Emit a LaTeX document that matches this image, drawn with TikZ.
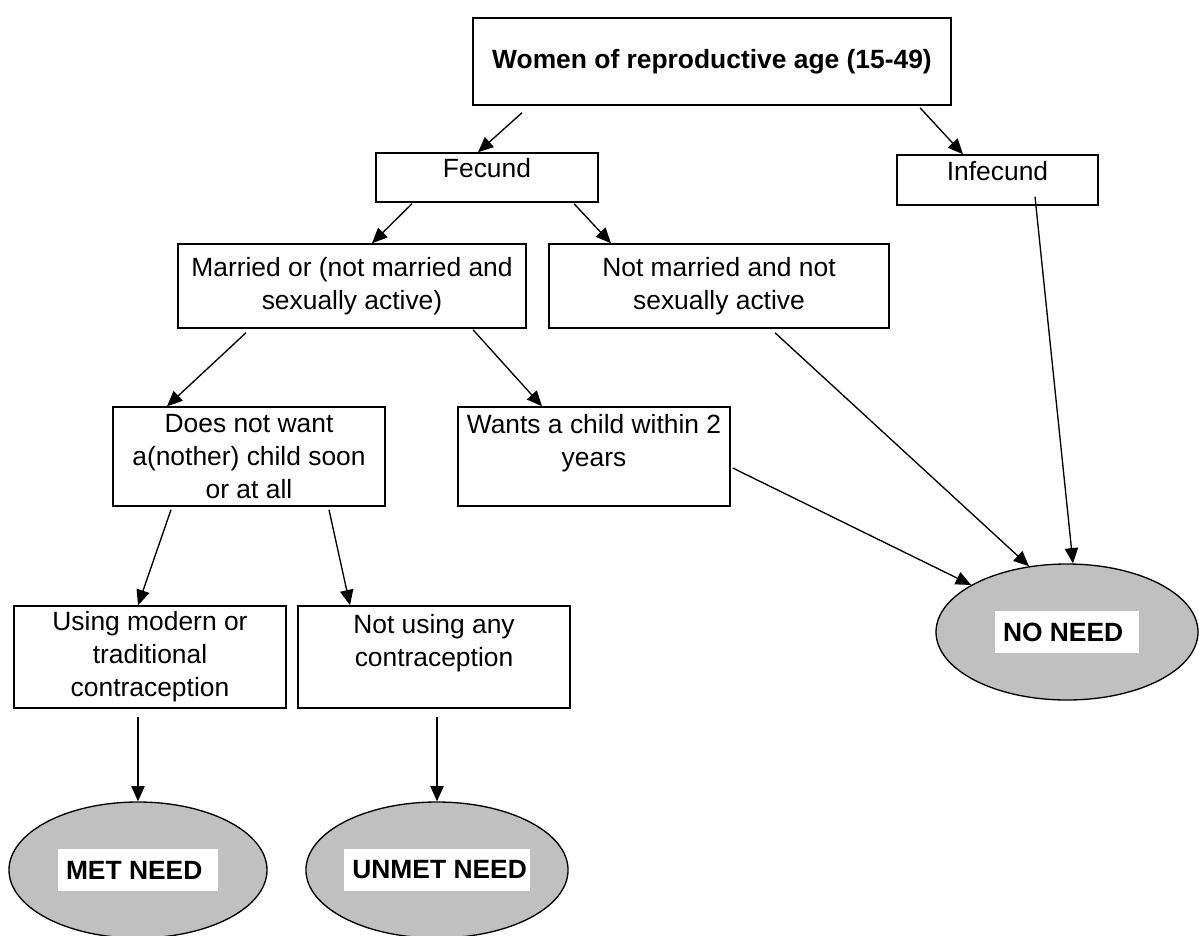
\documentclass[tikz,border=0pt]{standalone}
\usepackage{fontspec}
\setmainfont{Liberation Sans}
\usetikzlibrary{arrows.meta,shapes.geometric}
\definecolor{needgray}{RGB}{192,192,192}
\newcommand{\needtag}[2]{{\setlength{\fboxsep}{0pt}\colorbox{white}{\parbox[c][31.5pt][c]{#1}{\hspace*{6pt}\bfseries #2}}}}

\begin{document}
\begin{tikzpicture}[x=0.75pt,y=-0.75pt,>={Triangle[length=11.5pt,width=10pt]},
  every node/.style={font=\fontsize{19.8}{24.75}\selectfont,align=center},
  box/.style={draw,line width=1.1pt,inner sep=0pt},
  oneline/.style={text height=8pt,text depth=8pt},
  need/.style={draw,ellipse,fill=needgray,line width=1pt,inner sep=0pt,minimum height=102pt},
  arr/.style={->,line width=1pt}]
\useasboundingbox (0,0) rectangle (1199,935);
\clip (0,0) rectangle (1199,935);
\node[box,minimum width=358.5pt,minimum height=65.25pt] (women) at (712,61.5) {\bfseries Women of reproductive age (15-49)};
\node[box,oneline,minimum width=166.5pt,minimum height=36.75pt] (fecund) at (487,177.5) {Fecund};
\node[box,oneline,minimum width=150.75pt,minimum height=37.5pt] (infecund) at (997.5,180) {Infecund};
\node[box,minimum width=261pt,minimum height=63pt] (married) at (352,286) {Married or (not married and\\sexually active)};
\node[box,minimum width=255pt,minimum height=63pt] (notmarried) at (719,286) {Not married and not\\sexually active};
\node[box,minimum width=204pt,minimum height=74.25pt] (nowant) at (249,456.5) {Does not want\\a(nother) child soon\\or at all};
\node[box,minimum width=204pt,minimum height=74.25pt] (wants) at (594,456.5) {Wants a child within 2\\years\\\mbox{}};
\node[box,minimum width=204pt,minimum height=76.5pt] (using) at (150,657) {Using modern or\\traditional\\contraception};
\node[box,minimum width=204pt,minimum height=76.5pt] (notusing) at (434,657) {Not using any\\contraception\\\mbox{}};
\node[need,minimum width=196.5pt] (noneed) at (1067,632) {\needtag{108pt}{NO NEED}};
\node[need,minimum width=193.5pt] (met) at (138,870) {\needtag{120pt}{MET NEED}};
\node[need,minimum width=196.5pt] (unmet) at (437,870) {\needtag{139pt}{UNMET NEED}};
% connectors
\draw[arr] ([shift={(-190,7)}]women.south) -- ([shift={(-9,0)}]fecund.north);
\draw[arr] ([shift={(208,2)}]women.south) -- ([shift={(-34.5,0)}]infecund.north);
\draw[arr] ([shift={(-75,1)}]fecund.south) -- ([shift={(20,0)}]married.north);
\draw[arr] ([shift={(87,1)}]fecund.south) -- ([shift={(-108,0)}]notmarried.north);
\draw[arr] ([shift={(-106,4)}]married.south) -- ([shift={(-82,0)}]nowant.north);
\draw[arr] ([shift={(121,1)}]married.south) -- ([shift={(-52,0)}]wants.north);
\draw[arr] ([shift={(-78,3)}]nowant.south) -- ([shift={(-12,0)}]using.north);
\draw[arr] ([shift={(80,3)}]nowant.south) -- ([shift={(-84,0)}]notusing.north);
\draw[arr] ([shift={(-12,8)}]using.south) -- (met.north);
\draw[arr] ([shift={(3,8)}]notusing.south) -- (unmet.north);
\draw[arr] ([shift={(2,11.5)}]wants.east) -- (noneed);
\draw[arr] ([shift={(56,4)}]notmarried.south) -- (noneed.120);
\draw[arr] ([shift={(37.5,-9)}]infecund.south) -- (noneed.85);
\end{tikzpicture}
\end{document}
